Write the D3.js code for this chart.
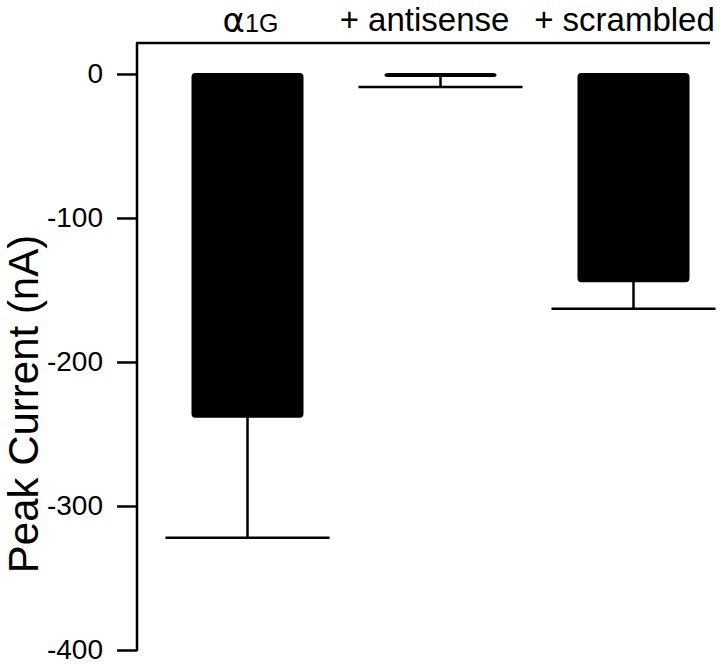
<!DOCTYPE html>
<html>
<head>
<meta charset="utf-8">
<script src="https://cdn.jsdelivr.net/npm/d3@7"></script>
<style>
  body { margin: 0; background: #fff; }
  text { font-family: "Liberation Sans", Arial, Helvetica, sans-serif; fill: #000; }
</style>
</head>
<body>
<svg id="chart"></svg>
<script>
// values
const categories = ["a1G", "antisense", "scrambled"];
const means = [-238, -1.5, -144];       // bar value (nA)
const errorEnds = [-322, -9, -163];     // lower end of error bar (nA)
const yTicks = [0, -100, -200, -300, -400];

const width = 720, height = 664;
const axisX = 137, topY = 43;

const svg = d3.select("#chart").attr("width", width).attr("height", height);

// scales
const xScale = d3.scaleBand().domain(categories).range([151, 730]);
const yScale = d3.scaleLinear().domain([-400, 21.5]).range([650, topY]);

const barW = xScale.bandwidth() * 0.57;
const capW = xScale.bandwidth() * 0.85;
const cx = (d) => xScale(d) + xScale.bandwidth() / 2;

// y axis with outward ticks, plain hyphen minus like the original
const yAxis = svg.append("g")
  .attr("transform", `translate(${axisX},0)`)
  .call(d3.axisLeft(yScale)
    .tickValues(yTicks)
    .tickFormat((d) => String(d))
    .tickSize(20).tickPadding(14).tickSizeOuter(0));
yAxis.select(".domain").remove();
yAxis.selectAll(".tick line").attr("stroke", "#000").attr("stroke-width", 2.5);
yAxis.selectAll(".tick text")
  .attr("font-size", 28)
  .attr("font-family", "Liberation Sans, Arial, sans-serif")
  .attr("fill", "#000");

// axis line and top rule
svg.append("line")
  .attr("x1", axisX).attr("x2", axisX)
  .attr("y1", topY).attr("y2", yScale(-400) + 1)
  .attr("stroke", "#000").attr("stroke-width", 2.5);
svg.append("line")
  .attr("x1", axisX - 1).attr("x2", 710)
  .attr("y1", topY).attr("y2", topY)
  .attr("stroke", "#000").attr("stroke-width", 2.5);

// y axis title
svg.append("text")
  .attr("transform", "rotate(-90)")
  .attr("x", -404)
  .attr("y", 38)
  .attr("text-anchor", "middle")
  .attr("font-size", 42)
  .text("Peak Current (nA)");

// error bars (stem + cap)
const err = svg.append("g");
categories.forEach((c, i) => {
  err.append("line")
    .attr("x1", cx(c)).attr("x2", cx(c))
    .attr("y1", yScale(means[i])).attr("y2", yScale(errorEnds[i]))
    .attr("stroke", "#000").attr("stroke-width", 2.5);
  err.append("line")
    .attr("x1", cx(c) - capW / 2).attr("x2", cx(c) + capW / 2)
    .attr("y1", yScale(errorEnds[i])).attr("y2", yScale(errorEnds[i]))
    .attr("stroke", "#000").attr("stroke-width", 2.5);
});

// bars
svg.append("g").selectAll("rect")
  .data(categories)
  .join("rect")
  .attr("x", (d) => cx(d) - barW / 2)
  .attr("y", yScale(0))
  .attr("width", barW)
  .attr("height", (d, i) => yScale(means[i]) - yScale(0))
  .attr("rx", 3)
  .attr("fill", "#000")
  .attr("stroke", "#000")
  .attr("stroke-width", 2)
  .attr("stroke-linejoin", "round");

// category labels above top rule
const labelY = 31;
const l0 = svg.append("text")
  .attr("x", cx(categories[0]) + 3)
  .attr("y", labelY + 1)
  .attr("text-anchor", "middle");
l0.append("tspan").attr("font-family", "DejaVu Sans, sans-serif").attr("font-size", 34).text("α");
l0.append("tspan").attr("font-size", 25).text("1G");

svg.append("text")
  .attr("x", cx(categories[1]) - 16)
  .attr("y", labelY)
  .attr("text-anchor", "middle")
  .attr("font-size", 33)
  .text("+ antisense");

svg.append("text")
  .attr("x", cx(categories[2]) - 9)
  .attr("y", labelY)
  .attr("text-anchor", "middle")
  .attr("font-size", 33)
  .text("+ scrambled");
</script>
</body>
</html>
